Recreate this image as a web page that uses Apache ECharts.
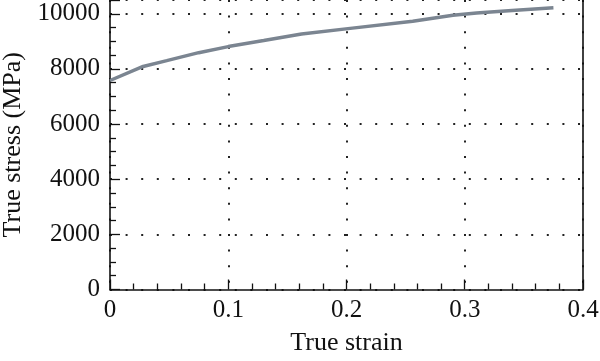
<!DOCTYPE html>
<html>
<head>
<meta charset="utf-8">
<script src="https://cdn.jsdelivr.net/npm/echarts@6/dist/echarts.min.js"></script>
<style>html,body{margin:0;padding:0;background:#fff}#c{width:600px;height:361px}</style>
</head>
<body>
<div id="c"></div>
<script>
const strain = [0, 0.028, 0.048, 0.075, 0.100, 0.130, 0.162, 0.205, 0.256, 0.290, 0.310, 0.340, 0.375];
const stress = [7580, 8090, 8300, 8590, 8810, 9030, 9270, 9480, 9730, 9950, 10030, 10120, 10220];
const xTicks = [0, 0.1, 0.2, 0.3, 0.4];
const yTicks = [0, 2000, 4000, 6000, 8000, 10000];

const font = 'Liberation Serif';
const chart = echarts.init(document.getElementById('c'), null, {renderer: 'canvas'});
const dotted = {color: '#222', width: 2, type: [2, 13.6]};
chart.setOption({
  animation: false,
  grid: {left: 110, right: 17, top: 0, bottom: 71.5, containLabel: false, outerBoundsMode: 'none'},
  xAxis: {
    type: 'value', min: 0, max: 0.4, interval: 0.1,
    name: 'True strain', nameLocation: 'middle', nameGap: 41,
    nameTextStyle: {fontFamily: font, fontSize: 26, color: '#111'},
    axisLine: {show: true, lineStyle: {color: '#111', width: 1.6}},
    axisTick: {show: true, inside: true, length: 10, lineStyle: {color: '#111', width: 1.3}},
    minorTick: {show: true, splitNumber: 5, length: 6, lineStyle: {color: '#111', width: 1.3}},
    axisLabel: {fontFamily: font, fontSize: 25, color: '#111', margin: 8,
      formatter: v => { const t = xTicks.find(x => Math.abs(x - v) < 1e-9); return t === undefined ? '' : String(t); }},
    splitLine: {show: true, lineStyle: dotted}
  },
  yAxis: [{
    type: 'value', min: 0, max: 10500, interval: 2000,
    name: 'True stress (MPa)', nameLocation: 'middle', nameGap: 84,
    nameTextStyle: {fontFamily: font, fontSize: 26, color: '#111'},
    axisLine: {show: true, lineStyle: {color: '#111', width: 1.6}},
    axisTick: {show: true, inside: true, length: 10, lineStyle: {color: '#111', width: 1.3}},
    minorTick: {show: true, splitNumber: 4, length: 6, lineStyle: {color: '#111', width: 1.3}},
    axisLabel: {fontFamily: font, fontSize: 25, color: '#111', margin: 10, showMaxLabel: false,
      formatter: v => yTicks.includes(v) ? String(v) : ''},
    splitLine: {show: true, lineStyle: dotted}
  }, {
    type: 'value', min: 0, max: 10500, position: 'right',
    axisLine: {show: true, lineStyle: {color: '#111', width: 1.6}},
    axisTick: {show: false}, axisLabel: {show: false}, splitLine: {show: false}
  }],
  series: [{
    type: 'line',
    data: strain.map((x, i) => [x, stress[i]]),
    showSymbol: false,
    lineStyle: {color: '#7b8591', width: 3.5},
    z: 5
  }]
});
</script>
</body>
</html>
